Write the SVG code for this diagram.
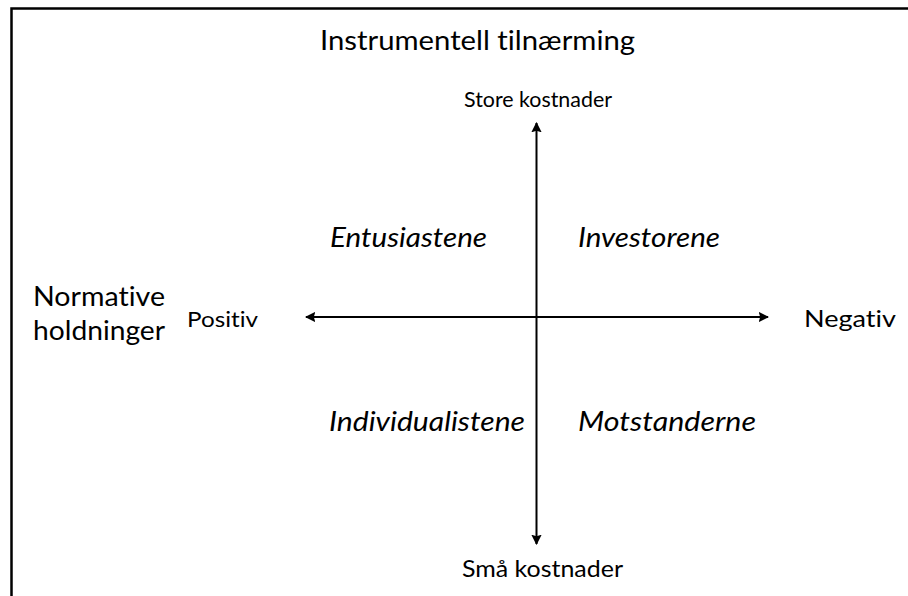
<svg xmlns="http://www.w3.org/2000/svg" width="908" height="596" viewBox="0 0 908 596">
<defs>
<style>
text{font-family:Lato,"Liberation Sans",sans-serif;fill:#000;font-variant-ligatures:none;font-feature-settings:"liga" 0}
.big{font-size:27px}
.mid{font-size:22px}
.it{font-style:italic;font-size:27px}
.ax{stroke:#000;stroke-width:2;fill:none}
</style>
<marker id="ah" viewBox="0 0 10 10" refX="9" refY="5" markerWidth="5.2" markerHeight="5.2" orient="auto-start-reverse" markerUnits="strokeWidth">
<path d="M0,0 L10,5 L0,10 L1.5,5 z" fill="#000"/>
</marker>
</defs>
<rect width="908" height="596" fill="#fff"/>
<path d="M11.5,596 V8.5 H908" stroke="#000" stroke-width="2.5" fill="none"/>
<g id="connectors">
<line class="ax" x1="536.5" y1="544" x2="536.5" y2="123" marker-start="url(#ah)" marker-end="url(#ah)"/>
<line class="ax" x1="306" y1="317" x2="768" y2="317" marker-start="url(#ah)" marker-end="url(#ah)"/>
</g>
<g id="title"><text class="big" x="320" y="50" textLength="315" lengthAdjust="spacingAndGlyphs">Instrumentell tilnærming</text></g>
<g id="top"><text style="font-size:21px" x="464" y="107" textLength="148" lengthAdjust="spacingAndGlyphs">Store kostnader</text></g>
<g id="bottom"><text style="font-size:24px" x="462" y="577" textLength="161" lengthAdjust="spacingAndGlyphs">Små kostnader</text></g>
<g id="left-label"><text class="big" x="33" y="306" textLength="132" lengthAdjust="spacingAndGlyphs">Normative</text><text class="big" x="33" y="340" textLength="132" lengthAdjust="spacingAndGlyphs">holdninger</text></g>
<g id="positiv"><text class="mid" x="187" y="327" textLength="71" lengthAdjust="spacingAndGlyphs">Positiv</text></g>
<g id="negativ"><text style="font-size:23px" x="804" y="327" textLength="92" lengthAdjust="spacingAndGlyphs">Negativ</text></g>
<g id="q1"><text class="it" x="330" y="247" textLength="157" lengthAdjust="spacingAndGlyphs">Entusiastene</text></g>
<g id="q2"><text class="it" x="578" y="247" textLength="142" lengthAdjust="spacingAndGlyphs">Investorene</text></g>
<g id="q3"><text class="it" x="329" y="431" textLength="196" lengthAdjust="spacingAndGlyphs">Individualistene</text></g>
<g id="q4"><text class="it" x="578" y="431" textLength="178" lengthAdjust="spacingAndGlyphs">Motstanderne</text></g>
</svg>
